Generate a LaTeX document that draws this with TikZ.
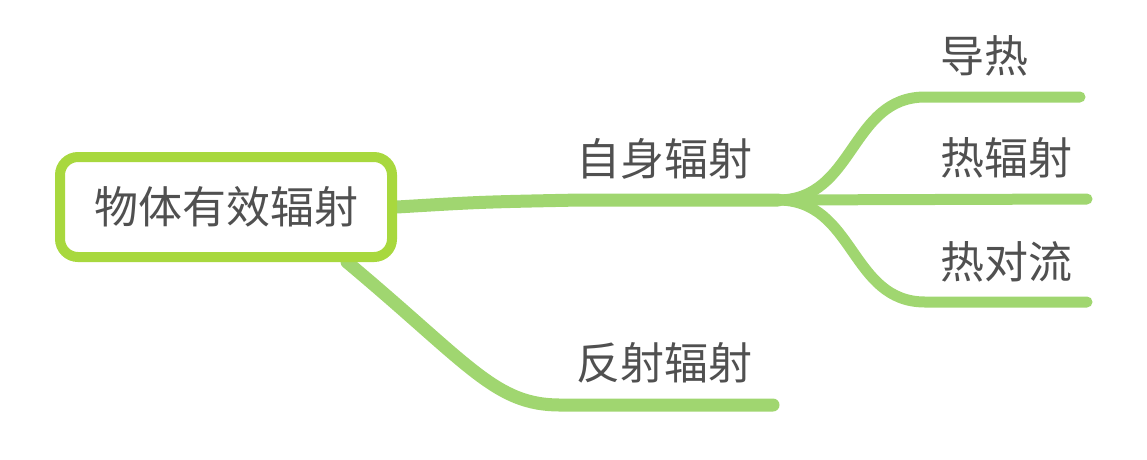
\documentclass[tikz,border=0pt]{standalone}
\usepackage{fontspec}
\newfontfamily\cjk{Noto Sans CJK SC}
\usetikzlibrary{backgrounds}
\definecolor{linegreen}{RGB}{160,214,112}
\definecolor{rootgreen}{RGB}{168,216,62}
\definecolor{txtgray}{RGB}{80,80,80}
\begin{document}
\begin{tikzpicture}[x=1pt, y=-1pt,
  topic/.style={font=\cjk\fontsize{44}{44}\selectfont, text=txtgray, inner sep=0pt},
  rootbox/.style={topic, draw=rootgreen, line width=10pt, rounded corners=18pt,
                  fill=white, minimum width=332pt, minimum height=100pt},
  branch/.style={draw=linegreen, line width=13pt, line cap=round},
  subbranch/.style={draw=linegreen, line width=11pt, line cap=round}
]
  \useasboundingbox (0,0) rectangle (1147,459);

  \node[rootbox] (root) at (226,207) {物体有效辐射};
  \node[topic] (self)    at (664,159) {自身辐射};
  \node[topic] (reflect) at (664,363) {反射辐射};
  \node[topic] (cond)    at (984,56)  {导热};
  \node[topic] (rad)     at (1006,158) {热辐射};
  \node[topic] (conv)    at (1006,262) {热对流};

  \coordinate (split)  at (778,200);
  \coordinate (lowout) at ([xshift=-50pt]root.south east);
  \coordinate (condend) at (1080,97);
  \coordinate (radend)  at (1087,199);
  \coordinate (convend) at (1087,302);
  \coordinate (reflend) at (773,405);

  \begin{scope}[on background layer]
    \draw[branch] (root.east) .. controls (480,202) .. (580,200) -- (split);
    \draw[branch] (lowout) .. controls (470,365) and (495,405) .. (560,405) -- (reflend);
    \draw[subbranch] (split) .. controls (855,200) and (850,97) .. (925,97) -- (condend);
    \draw[subbranch] (split) -- (radend);
    \draw[subbranch] (split) .. controls (855,200) and (850,302) .. (925,302) -- (convend);
  \end{scope}
\end{tikzpicture}
\end{document}
